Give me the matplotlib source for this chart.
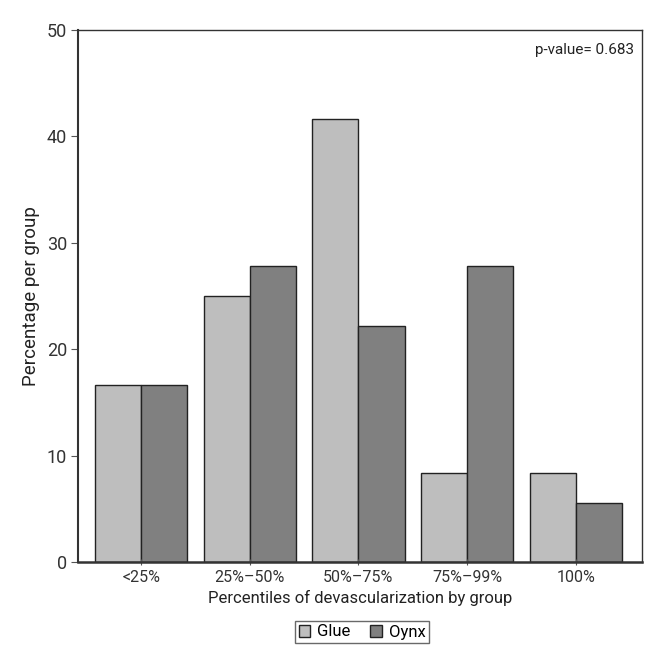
import numpy as np
import matplotlib
matplotlib.use("Agg")
import matplotlib.pyplot as plt
from matplotlib.patches import Patch

plt.rcParams['font.family'] = ['Roboto', 'DejaVu Sans']

categories = ['<25%', '25%\u201350%', '50%\u201375%', '75%\u201399%', '100%']
glue = [16.67, 25.0, 41.67, 8.33, 8.33]
oynx = [16.67, 27.78, 22.22, 27.78, 5.56]

fig = plt.figure(figsize=(6.63, 6.55), dpi=100)
ax = fig.add_axes([78/663, 1 - 562/655, (642-78)/663, (562-30)/655])

x = np.arange(len(categories))
w = 0.425
ax.bar(x - w/2, glue, w, color='#bebebe', edgecolor='#222222', linewidth=1.0, label='Glue')
ax.bar(x + w/2, oynx, w, color='#808080', edgecolor='#222222', linewidth=1.0, label='Oynx')

ax.set_xlim(-0.58, 4.61)
ax.set_ylim(0, 50)
ax.set_yticks([0, 10, 20, 30, 40, 50])
ax.set_xticks(x)
ax.set_xticklabels(categories)
ax.tick_params(axis='y', labelsize=13, labelcolor='#333333', length=5, color='#555555', pad=3)
ax.tick_params(axis='x', labelsize=11.5, labelcolor='#333333', length=4, direction='inout', color='#555555')
for s in ax.spines.values():
    s.set_color('#333333')
    s.set_linewidth(1.0)
ax.spines['bottom'].set_linewidth(1.8)
ax.spines['left'].set_linewidth(1.5)

ax.set_ylabel('Percentage per group', fontsize=13.5, color='#222222', labelpad=5)
ax.set_xlabel('Percentiles of devascularization by group', fontsize=12, color='#222222', labelpad=4)
ax.text(0.985, 0.975, 'p-value= 0.683', transform=ax.transAxes, ha='right', va='top',
        fontsize=11, color='#222222')

handles = [Patch(facecolor='#bebebe', edgecolor='#222222'), Patch(facecolor='#808080', edgecolor='#222222')]
leg = fig.legend(handles, ['Glue', 'Oynx'], loc='center', bbox_to_anchor=(362/663, 1 - 632/655),
                 ncol=2, fontsize=12, frameon=True, fancybox=False, handlelength=0.7, handleheight=0.7,
                 handletextpad=0.4, columnspacing=1.2, borderpad=0.2)
leg.get_frame().set_edgecolor('#444444')
leg.get_frame().set_linewidth(1.0)

fig.savefig('out.png', dpi=100)
